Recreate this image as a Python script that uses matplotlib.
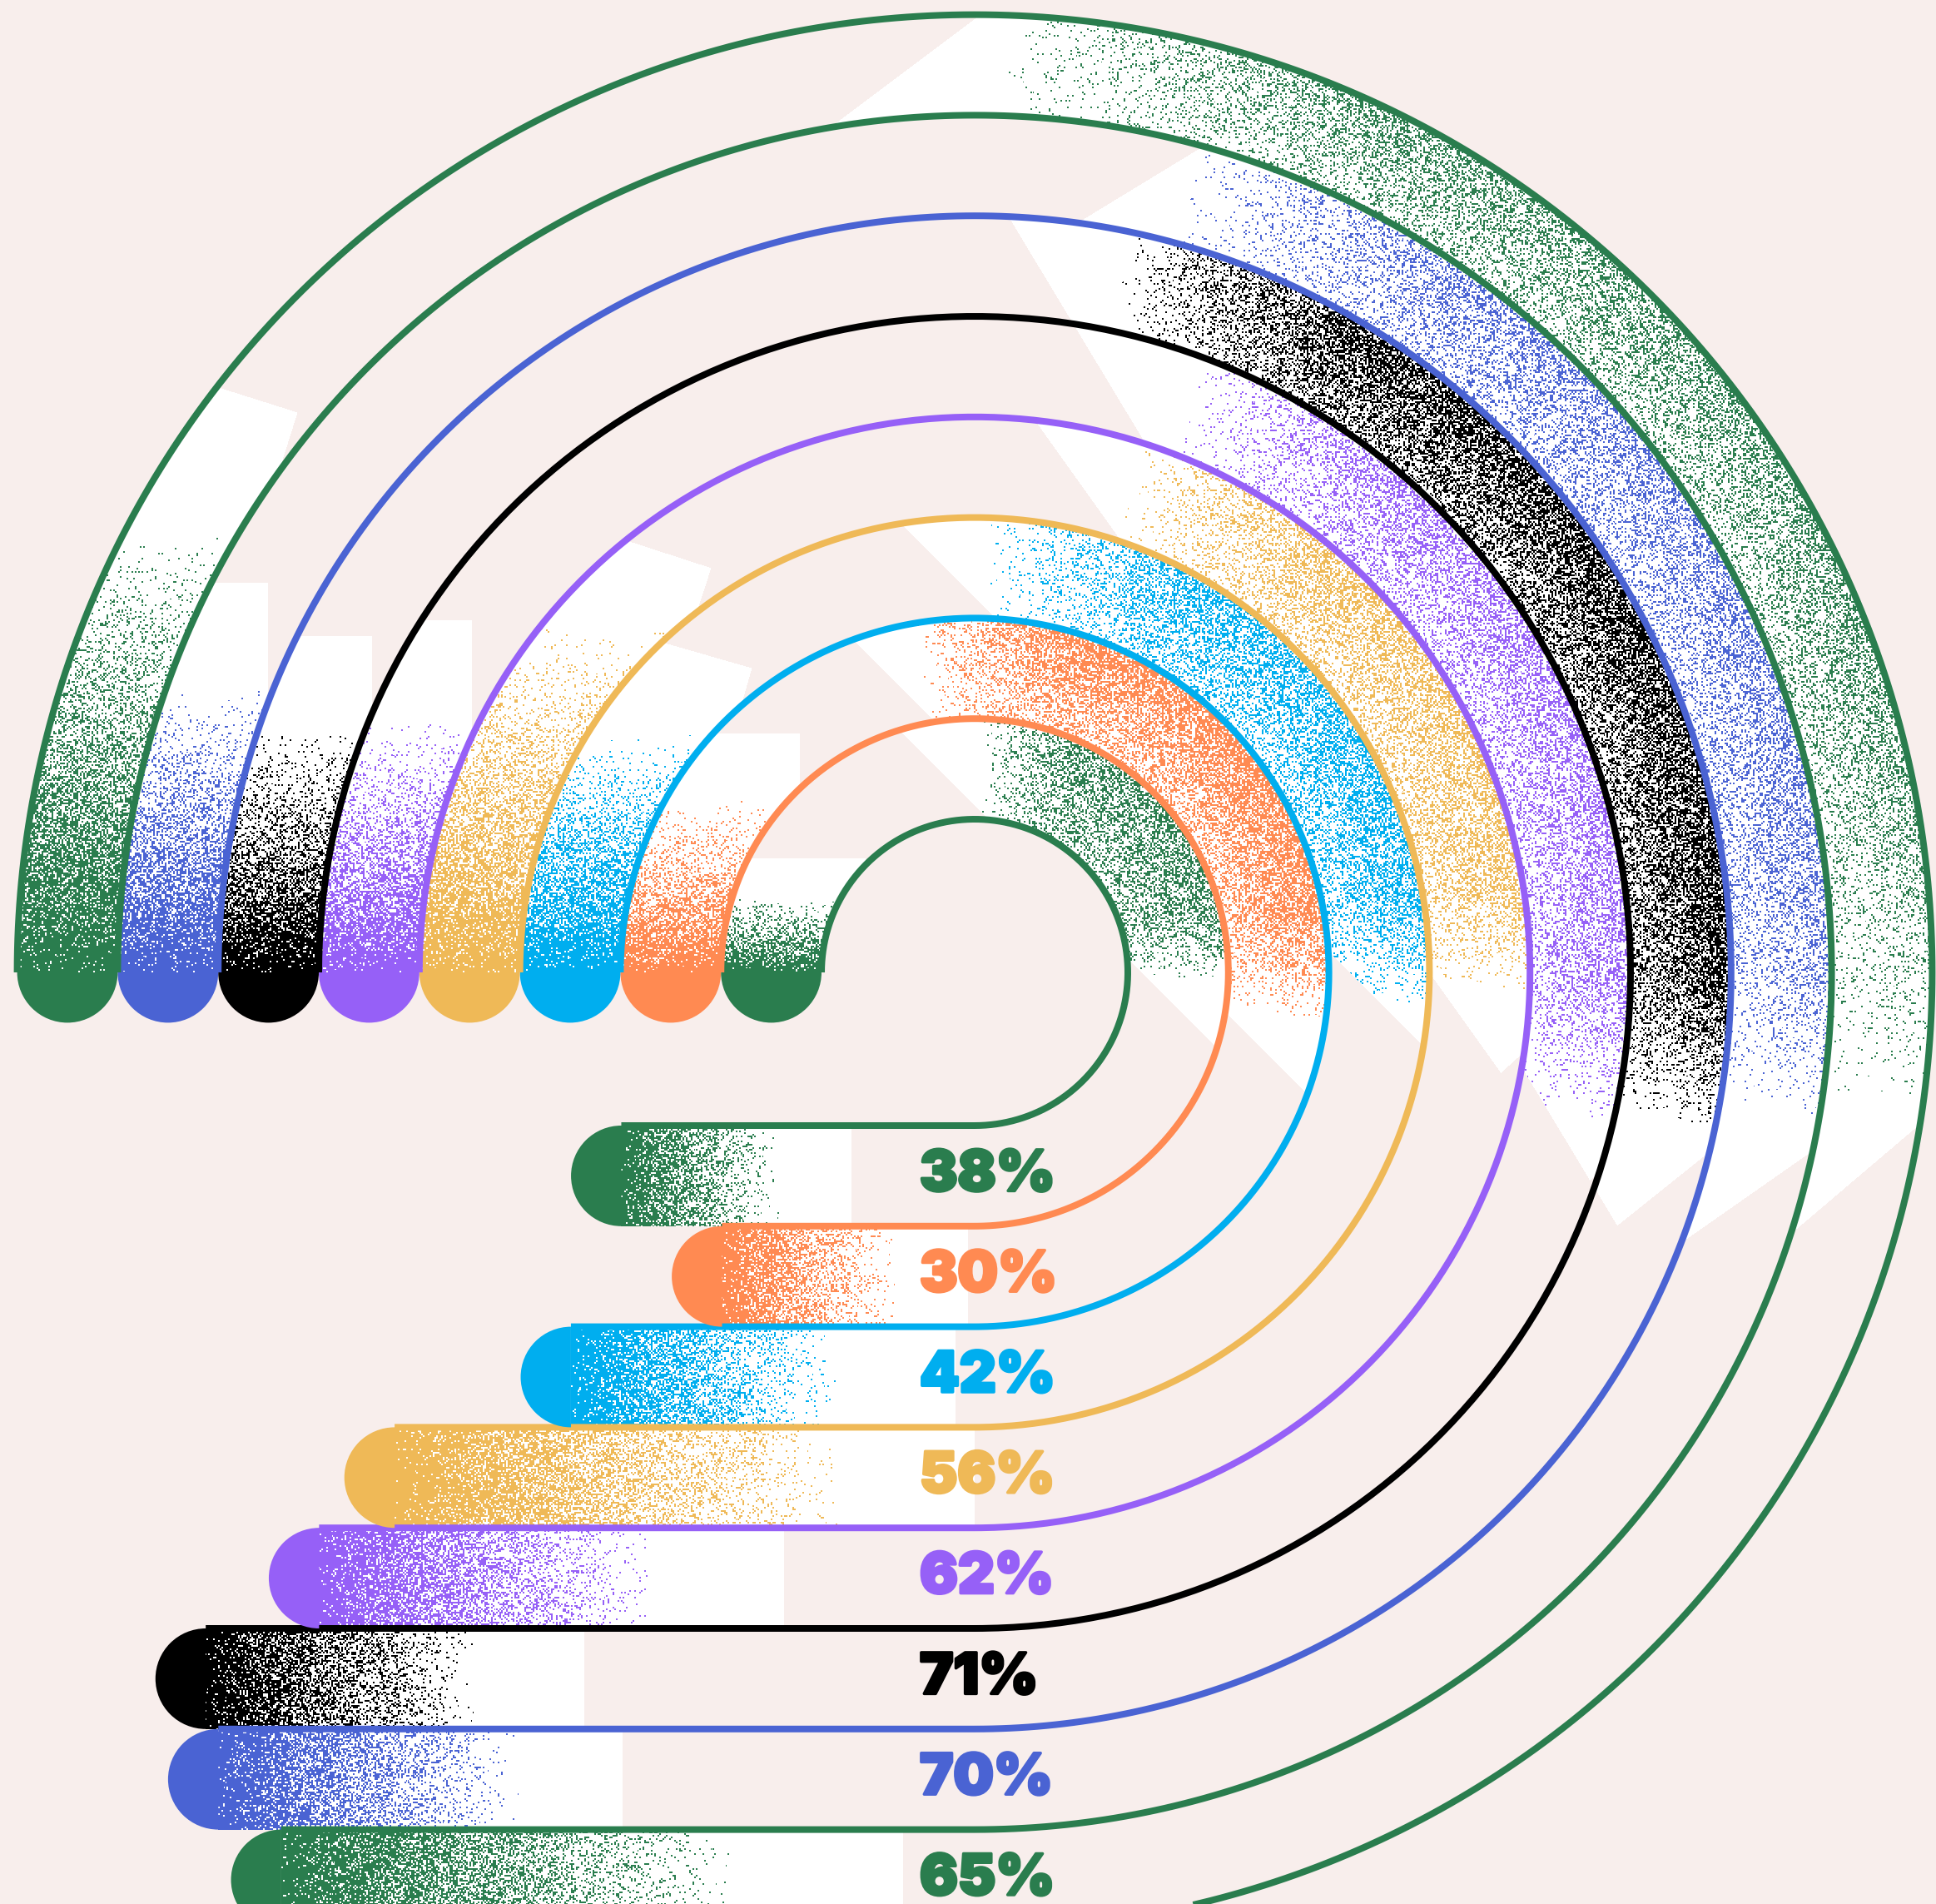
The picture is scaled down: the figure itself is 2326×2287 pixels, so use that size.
import numpy as np
import matplotlib
matplotlib.use("Agg")
import matplotlib.pyplot as plt
import matplotlib.patheffects as pe
from matplotlib.patches import Wedge
from matplotlib.colors import to_rgb

# ---- data (inner ring first) ----
labels = ["38%", "30%", "42%", "56%", "62%", "71%", "70%", "65%"]
values = [38, 30, 42, 56, 62, 71, 70, 65]
colors = ["#2a7d4e", "#ff8a52", "#00aeef", "#efb957",
          "#9660f7", "#000000", "#4a63d3", "#2a7d4e"]

BG = "#f8eeec"
W, H = 2326, 2287
S = W / 1568.0          # decoration below was measured on a 1568 px wide sketch

cx, cy = 1171.0, 1168.0
r_first, ring_w = 184.0, 120.8
radii = r_first + ring_w * np.arange(len(values) + 1)
bar_origin, bar_scale = 1261.0, 15.13   # bar left end = origin - scale * value

# ---- decoration (sketch units) ----
# white block on the rising left leg: top-right corner and tilt
blk_corner = [(701, 695), (648, 594), (609, 541), (576, 460),
              (382, 502), (301, 515), (217, 472), (241, 334)]
blk_tilt = [0, 0, 16, 18, 0, 0, 0, 17.5]
grain_top = [726, 648, 592, 505, 580, 587, 557, 430]
# white sweep on the right: start cut and end cut (point, direction)
cut1_pt = [(775, 638), (773, 600), (770, 464), (873, 389),
           (819, 179), (819, 179), (936, 142), (750, 45)]
cut1_dir = [(1, 1), (1, 1), (1, 1), (60, 84), (105, 174), (105, 174), (69, -42), (80, -60)]
cut2_pt = [(775, 638), (773, 600), (770, 464), (1182, 899),
           (1230, 1002), (1328, 978), (1418, 967), (1506, 952)]
cut2_dir = [(1, 1), (1, 1), (1, 1), (1, -0.9), (1, -0.8), (1, -0.8), (1, -0.7), (1, -0.85)]
sweep_mid = [45, 45, 45, 31, 25, 32, 30, 42]
grain_ang = [(88, 65, 15, -2), (100, 75, 10, -8), (88, 60, 10, -4), (72, 52, 10, -2),
             (70, 50, 0, -14), (78, 60, 0, -12), (75, 55, 5, -10), (88, 65, 15, -8)]
grain_peak = [0.6, 0.75, 0.6, 0.55, 0.5, 0.75, 0.45, 0.45]
bar_grain = [169, 184, 257, 405, 314, 263, 284, 410]
bar_white = [227, 240, 352, 534, 417, 347, 368, 544]

# ---- texture raster ----
yy, xx = np.mgrid[0:H, 0:W].astype(np.float32)
xx += 0.5
yy += 0.5
dx = xx - cx
dy = cy - yy
rr = np.hypot(dx, dy)
th = np.degrees(np.arctan2(dy, dx))
arc = ~((dx < 0) & (dy < 0))

rng = np.random.default_rng(11)   # grain texture only
noise = rng.random((H // 2 + 1, W // 2 + 1), dtype=np.float32)
noise = np.repeat(np.repeat(noise, 2, axis=0), 2, axis=1)[:H, :W]

img = np.zeros((H, W, 4), dtype=np.uint8)


def side(pt, d):
    return (xx - pt[0]) * d[1] - (yy - pt[1]) * d[0]


def ramp(t, g1, p1, p2, g2):
    up = np.clip((g1 - t) / (g1 - p1), 0, 1)
    down = np.clip((t - g2) / (p2 - g2), 0, 1)
    return np.minimum(up, down)


for i in range(len(values)):
    r0, r1 = radii[i], radii[i + 1]
    rc = (r0 + r1) / 2
    band = arc & (rr >= r0) & (rr < r1)
    white = np.zeros((H, W), bool)
    dens = np.zeros((H, W), np.float32)

    # left leg
    left = band & (dx < 0) & (dy >= 0)
    Cx, Cy = blk_corner[i][0] * S, blk_corner[i][1] * S
    a = np.radians(blk_tilt[i])
    px, py = xx - Cx, yy - Cy
    white |= left & (px * -np.sin(a) + py * np.cos(a) > 0) & (px * np.cos(a) + py * np.sin(a) < 0)
    gt = grain_top[i] * S
    dl = np.clip(1 - (cy - yy) / (cy - gt), 0, 1) ** 1.3
    dens = np.where(left, dl, dens)

    # right sweep
    zone = band & (th > -60) & (th < 125)
    p1 = np.array(cut1_pt[i]) * S
    p2 = np.array(cut2_pt[i]) * S
    m = np.radians(sweep_mid[i])
    mx, my = cx + rc * np.cos(m), cy - rc * np.sin(m)
    ref1 = (mx - p1[0]) * cut1_dir[i][1] - (my - p1[1]) * cut1_dir[i][0]
    ref2 = (mx - p2[0]) * cut2_dir[i][1] - (my - p2[1]) * cut2_dir[i][0]
    wr = zone & (side(p1, cut1_dir[i]) * ref1 > 0) & (side(p2, cut2_dir[i]) * ref2 > 0)
    white |= wr
    tr = (rr - r0) / (r1 - r0)
    dr = grain_peak[i] * ramp(th, *grain_ang[i]) * (0.45 + 0.55 * tr)
    dens = np.where(wr, dr, dens)

    # bottom bar (starts at the centre of its round cap)
    xl = bar_origin - bar_scale * values[i]
    xc = xl + ring_w / 2
    bar = (yy >= cy + r0) & (yy < cy + r1) & (xx >= xc) & (xx < cx)
    white |= bar & (xx < xl + bar_white[i] * S)
    db = np.clip(1 - (xx - xc) / (bar_grain[i] * S - ring_w / 2), 0, 1) ** 1.2
    dens = np.where(bar, db, dens)

    img[white] = (255, 255, 255, 255)
    col = np.array([int(c * 255) for c in to_rgb(colors[i])] + [255], np.uint8)
    img[(noise < dens * 0.97) & (band | bar)] = col

# ---- figure ----
fig = plt.figure(figsize=(W / 100, H / 100), dpi=100, facecolor=BG)
ax = fig.add_axes([0, 0, 1, 1])
ax.set_facecolor(BG)
ax.set_xlim(0, W)
ax.set_ylim(H, 0)
ax.axis("off")
ax.imshow(img, extent=(0, W, H, 0), interpolation="nearest", zorder=1)

lw = 8 * 72 / 100
ang = np.radians(np.linspace(180, -90, 400))
for i in range(len(values) + 1):
    k = min(i, len(values) - 1)
    r = radii[i]
    xl = bar_origin - bar_scale * values[k]
    xs = np.append(cx + r * np.cos(ang), xl + ring_w / 2)
    ys = np.append(cy - r * np.sin(ang), cy + r)
    ax.plot(xs, ys, color=colors[k], lw=lw, solid_capstyle="butt", zorder=3)

for i in range(len(values)):
    rc = (radii[i] + radii[i + 1]) / 2
    xl = bar_origin - bar_scale * values[i]
    ax.add_patch(Wedge((cx - rc, cy), ring_w / 2, 0, 180, color=colors[i], lw=0, zorder=4))
    ax.add_patch(Wedge((xl + ring_w / 2, cy + rc), ring_w / 2, 90, 270,
                       color=colors[i], lw=0, zorder=4))
    ax.text(1105, cy + rc, labels[i], color=colors[i], fontsize=49, fontweight="black",
            family=["Inter", "DejaVu Sans"], ha="left", va="center", zorder=5,
            path_effects=[pe.withStroke(linewidth=2.5, foreground=colors[i])])

fig.savefig("out.png", dpi=100, facecolor=BG)
